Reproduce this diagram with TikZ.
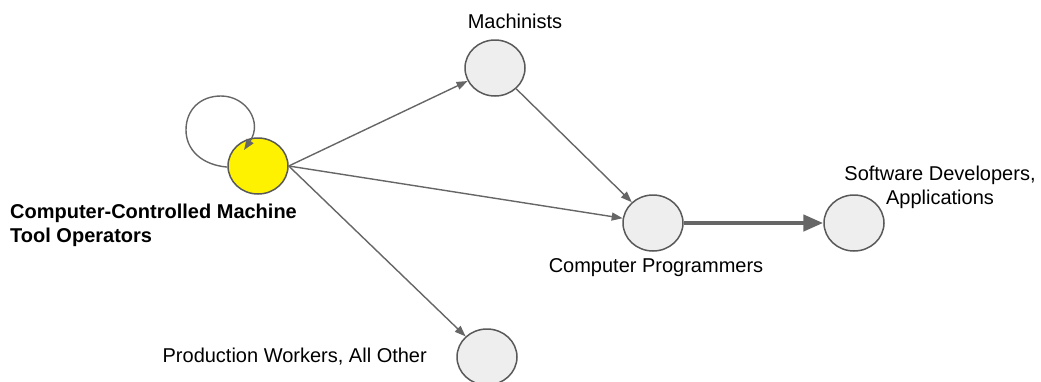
\documentclass[tikz,border=0pt]{standalone}
\usepackage{fontspec}
\setmainfont{Liberation Sans}
\usetikzlibrary{shapes.geometric,arrows.meta}
\definecolor{edgec}{HTML}{666666}
\definecolor{borderc}{HTML}{595959}
\definecolor{nodefill}{HTML}{EEEEEE}
\tikzset{
  occ/.style={ellipse, draw=borderc, line width=1.5pt, fill=nodefill, minimum width=60pt, minimum height=56pt, inner sep=0pt},
  hl/.style={occ, fill=yellow},
  lbl/.style={font=\fontsize{20pt}{24pt}\selectfont, inner sep=0pt, align=center},
  edge/.style={draw=edgec, line width=1.4pt, -{Triangle[length=11pt,width=8pt]}},
  thick edge/.style={draw=edgec, line width=4.5pt, -{Triangle[length=20pt,width=16pt]}}
}
\begin{document}
\begin{tikzpicture}[x=1pt,y=-1pt]
\useasboundingbox (0,0) rectangle (1041,381);
\node[hl]  (ccm)  at (258,166) {};
\node[occ] (mach) at (495,68) {};
\node[occ] (prog) at (653,223) {};
\node[occ] (soft) at (854,223) {};
\node[occ] (prod) at (487,357) {};

\node[lbl] (lmach) at (515,21) {Machinists};
\node[lbl] (lprog) at (656,268) {Computer Programmers};
\node[lbl] (lsoft) at (940,187) {Software Developers,\\Applications};
\node[lbl, anchor=east] (lprod) at (427,357) {Production Workers, All Other};
\node[lbl, anchor=north west, align=left, font=\fontsize{20pt}{24pt}\selectfont\bfseries] (lccm) at (10,204) {Computer-Controlled Machine\\Tool Operators};

\draw[edge] (ccm.east) -- (mach);
\draw[edge] (ccm.east) -- (prog);
\draw[edge] (ccm.east) -- (prod);
\draw[edge] (mach) -- (prog);
\draw[thick edge] (prog.east) -- (soft.west);
\draw[edge] (ccm.182) .. controls (202,165) and (186,150) .. (186,130) .. controls (186,110) and (200,96) .. (221,96) .. controls (246,96) and (263,122) .. (244,150);
\end{tikzpicture}
\end{document}
